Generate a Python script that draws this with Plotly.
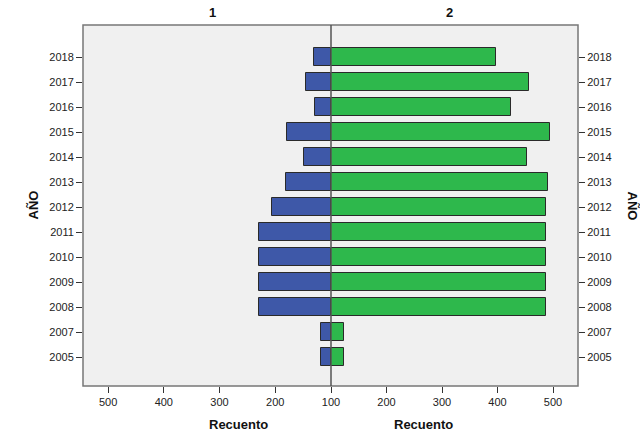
import plotly.graph_objects as go

years = ["2005", "2007", "2008", "2009", "2010", "2011", "2012", "2013", "2014", "2015", "2016", "2017", "2018"]
# values read against the printed axis (its centre line is labelled 100)
grupo1 = [118, 118, 229, 229, 229, 229, 205, 181, 148, 179, 129, 144, 131]
grupo2 = [123, 123, 488, 488, 488, 488, 488, 491, 453, 494, 425, 456, 398]
axis_base = 100
tick_vals = [100, 200, 300, 400, 500]
panel_titles = ["1", "2"]
x_title = "Recuento"
y_title = "AÑO"

BLUE = "#3e58a8"
GREEN = "#2eb84c"
FONT = "Liberation Sans, Arial, sans-serif"
split = 248 / 495

fig = go.Figure()
fig.add_trace(go.Bar(
    y=years, x=[v - axis_base for v in grupo1], base=axis_base, orientation="h",
    marker=dict(color=BLUE, line=dict(color="#2a2a2a", width=1)),
    width=0.74, xaxis="x", yaxis="y", hoverinfo="skip", showlegend=False))
fig.add_trace(go.Bar(
    y=years, x=[v - axis_base for v in grupo2], base=axis_base, orientation="h",
    marker=dict(color=GREEN, line=dict(color="#2a2a2a", width=1)),
    width=0.74, xaxis="x2", yaxis="y2", hoverinfo="skip", showlegend=False))

tickfont = dict(family=FONT, size=11, color="#222")
common_x = dict(ticks="outside", ticklen=6, tickcolor="#333", tickfont=tickfont,
                showgrid=False, zeroline=False, showline=False, fixedrange=True)
common_y = dict(type="category", categoryorder="array", categoryarray=years,
                range=[-1.16, 13.28], ticks="outside", ticklen=6, tickcolor="#333",
                tickfont=tickfont, showgrid=False, zeroline=False, showline=False)

fig.update_layout(
    width=640, height=434,
    margin=dict(l=83, r=62, t=25, b=48),
    paper_bgcolor="white", plot_bgcolor="#f0f0f0",
    bargap=0,
    xaxis=dict(domain=[0, split], range=[545, 100], anchor="y",
               tickvals=tick_vals, ticktext=[""] + [str(v) for v in tick_vals[1:]], **common_x),
    xaxis2=dict(domain=[split, 1], range=[100, 545], anchor="y2",
                tickvals=tick_vals, ticktext=[str(v) for v in tick_vals], **common_x),
    yaxis=dict(anchor="x", side="left", **common_y),
    yaxis2=dict(anchor="x2", side="right", **common_y),
    font=dict(family=FONT),
)

# frame and centre line
fig.add_shape(type="rect", xref="paper", yref="paper", x0=0, x1=1, y0=0, y1=1,
              line=dict(color="#777", width=1.5), layer="above")
fig.add_shape(type="line", xref="paper", yref="paper", x0=split, x1=split, y0=0, y1=1,
              line=dict(color="#555", width=1.5), layer="above")

bold = dict(family=FONT, size=13, color="#111")
for i, t in enumerate(panel_titles):
    cx = split / 2 if i == 0 else (split + 1) / 2
    fig.add_annotation(text=f"<b>{t}</b>", x=cx, y=1, xref="paper", yref="paper",
                       yanchor="bottom", yshift=3, showarrow=False, font=bold)
    fig.add_annotation(text=f"<b>{x_title}</b>", x=cx, y=0, xref="paper", yref="paper",
                       yanchor="top", yshift=-29, showarrow=False, font=bold)
fig.add_annotation(text=f"<b>{y_title}</b>", x=0, y=0.5, xref="paper", yref="paper",
                   xanchor="center", xshift=-50, textangle=-90, showarrow=False, font=bold)
fig.add_annotation(text=f"<b>{y_title}</b>", x=1, y=0.5, xref="paper", yref="paper",
                   xanchor="center", xshift=54, textangle=90, showarrow=False, font=bold)

# remove the default page margin so the 640x434 figure fills the window exactly
fig.write_html("out.html", config={"displayModeBar": False},
               post_script="document.body.style.margin='0';")
